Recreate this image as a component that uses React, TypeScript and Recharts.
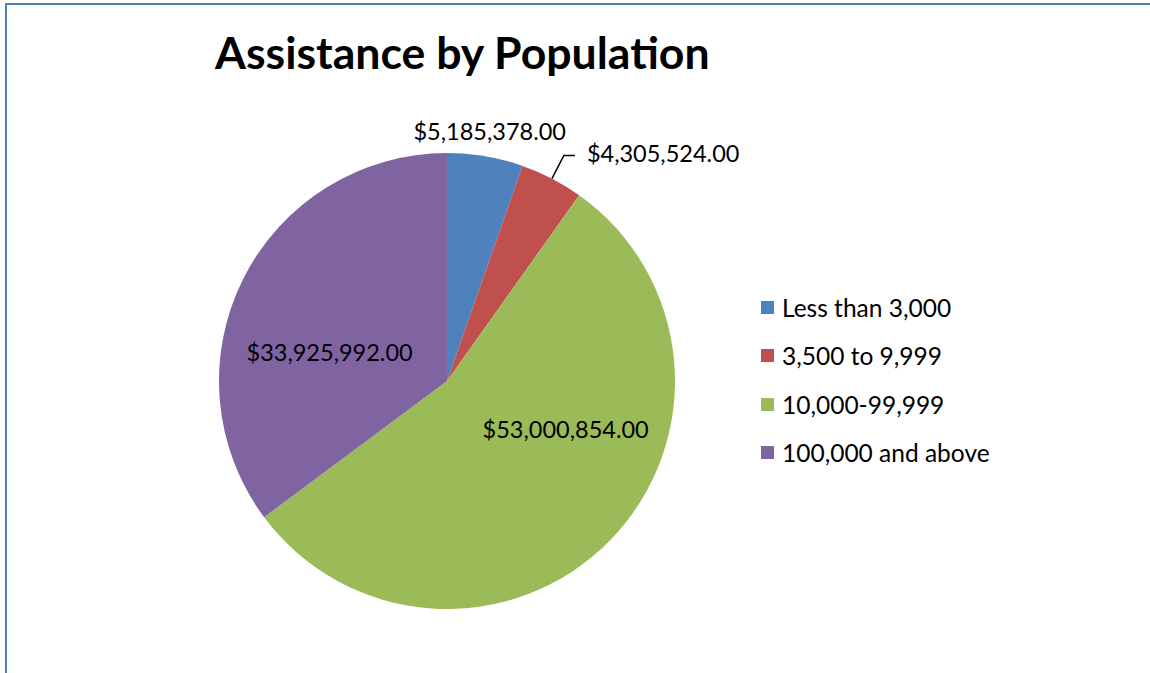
import { PieChart, Pie, Cell, Legend } from "recharts";

const categories = ["Less than 3,000", "3,500 to 9,999", "10,000-99,999", "100,000 and above"];
const amounts = [5185378, 4305524, 53000854, 33925992];
const colors = ["#4f81bd", "#c0504d", "#9bbb59", "#8064a2"];

const data = categories.map((name, i) => ({ name, value: amounts[i] }));

const FONT = "Lato, 'Open Sans', sans-serif";
const RAD = Math.PI / 180;

const money = (v: number) =>
  "$" + v.toLocaleString("en-US", { minimumFractionDigits: 2, maximumFractionDigits: 2 });

// label placement, angle measured clockwise from 12 o'clock
const insideLayout: Record<number, { theta: number; r: number }> = {
  2: { theta: 112, r: 128 },
  3: { theta: 284, r: 121 },
};

function renderLabel(props: any) {
  const { cx, cy, midAngle, outerRadius, index, value } = props;
  const text = money(value);
  const style = { fontFamily: FONT, fontSize: 23.5, fill: "#000" };
  if (insideLayout[index]) {
    const { theta, r } = insideLayout[index];
    const x = cx + r * Math.sin(theta * RAD);
    const y = cy - r * Math.cos(theta * RAD);
    return (
      <text x={x} y={y} textAnchor="middle" dominantBaseline="central" style={style}>
        {text}
      </text>
    );
  }
  const r2 = outerRadius + 26;
  const ex = cx + r2 * Math.cos(midAngle * RAD);
  const ey = cy - r2 * Math.sin(midAngle * RAD);
  if (index === 0) {
    return (
      <text x={ex} y={ey} textAnchor="middle" dominantBaseline="central" style={style}>
        {text}
      </text>
    );
  }
  const sx = cx + outerRadius * Math.cos(midAngle * RAD);
  const sy = cy - outerRadius * Math.sin(midAngle * RAD);
  return (
    <g>
      <polyline
        points={`${sx},${sy} ${ex},${ey} ${ex + 11},${ey}`}
        fill="none"
        stroke="#000"
        strokeWidth={1.5}
      />
      <text x={ex + 23} y={ey - 2} textAnchor="start" dominantBaseline="central" style={style}>
        {text}
      </text>
    </g>
  );
}

function renderLegend() {
  return (
    <div style={{ fontFamily: FONT, fontSize: 24.5, color: "#000" }}>
      {categories.map((c, i) => (
        <div key={c} style={{ display: "flex", alignItems: "center", height: 48.5 }}>
          <span
            style={{ display: "inline-block", width: 13, height: 13, background: colors[i], marginRight: 8 }}
          />
          <span>{c}</span>
        </div>
      ))}
    </div>
  );
}

export default function App() {
  return (
    <div
      style={{
        position: "absolute",
        left: 0,
        top: 0,
        width: 1150,
        height: 673,
        overflow: "hidden",
        background: "#fff",
      }}
    >
      <div
        style={{
          position: "absolute",
          left: 5,
          top: 3,
          width: 1300,
          height: 900,
          border: "2px solid #4f81bd",
        }}
      />
      <div
        style={{
          position: "absolute",
          left: 215,
          top: 25,
          fontFamily: FONT,
          fontWeight: 700,
          fontSize: 44.6,
          color: "#000",
          whiteSpace: "nowrap",
        }}
      >
        Assistance by Population
      </div>
      <div style={{ position: "absolute", left: 0, top: 0 }}>
        <PieChart width={1150} height={673} margin={{ top: 0, right: 0, bottom: 0, left: 0 }}>
          <Pie
            data={data}
            dataKey="value"
            nameKey="name"
            cx={447}
            cy={381}
            outerRadius={228}
            startAngle={90}
            endAngle={-270}
            stroke="none"
            label={renderLabel}
            labelLine={false}
            isAnimationActive={false}
          >
            {data.map((d, i) => (
              <Cell key={d.name} fill={colors[i]} />
            ))}
          </Pie>
          <Legend
            content={renderLegend}
            wrapperStyle={{ position: "absolute", left: 761, top: 283, width: 280 }}
          />
        </PieChart>
      </div>
    </div>
  );
}
